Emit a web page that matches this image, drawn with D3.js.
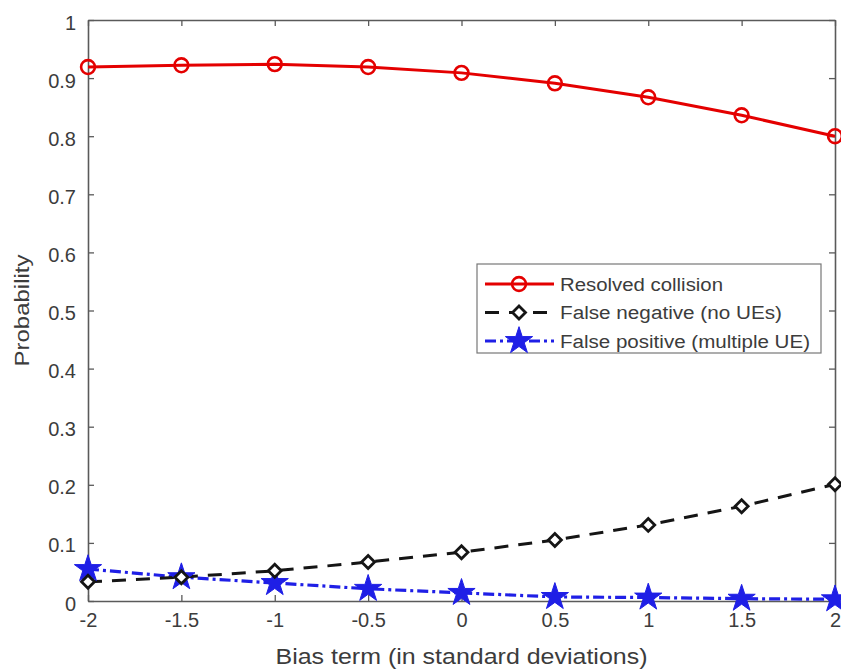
<!DOCTYPE html>
<html>
<head>
<meta charset="utf-8">
<script src="https://cdn.jsdelivr.net/npm/d3@7"></script>
<style>
  html, body { margin: 0; padding: 0; background: #fff; }
  svg { display: block; font-family: "Liberation Sans", Arial, sans-serif; }
</style>
</head>
<body>
<svg id="chart" width="841" height="669"></svg>
<script>
// Bias term values (in standard deviations)
const biasTerms = [-2, -1.5, -1, -0.5, 0, 0.5, 1, 1.5, 2];

// Probabilities per outcome
const resolvedCollision = [0.919, 0.922, 0.924, 0.919, 0.909, 0.891, 0.867, 0.836, 0.800];
const falseNegative     = [0.033, 0.041, 0.052, 0.067, 0.084, 0.105, 0.131, 0.163, 0.201];
const falsePositive     = [0.055, 0.041, 0.031, 0.021, 0.014, 0.007, 0.006, 0.004, 0.003];

const xTicks = [-2, -1.5, -1, -0.5, 0, 0.5, 1, 1.5, 2];
const yTicks = [0, 0.1, 0.2, 0.3, 0.4, 0.5, 0.6, 0.7, 0.8, 0.9, 1];

const seriesNames = ["Resolved collision", "False negative (no UEs)", "False positive (multiple UE)"];

const svg = d3.select("#chart");
const margin = { left: 88, right: 5, top: 20, bottom: 68 };
const W = 841, H = 669;
const x = d3.scaleLinear().domain([-2, 2]).range([margin.left, W - margin.right - 1]);
const y = d3.scaleLinear().domain([0, 1]).range([H - margin.bottom, margin.top]);

const axisColor = "#5a5a5a";
const textColor = "#3c3c3c";
const fmt = d => String(d);

// axes with inward ticks on all four sides
const gx = svg.append("g").attr("transform", `translate(0,${y(0)})`)
  .call(d3.axisBottom(x).tickValues(xTicks).tickSizeInner(-6).tickSizeOuter(0).tickPadding(12).tickFormat(fmt));
const gxTop = svg.append("g").attr("transform", `translate(0,${y(1)})`)
  .call(d3.axisTop(x).tickValues(xTicks).tickSizeInner(-6).tickSizeOuter(0).tickFormat(""));
const gy = svg.append("g").attr("transform", `translate(${x(-2)},0)`)
  .call(d3.axisLeft(y).tickValues(yTicks).tickSizeInner(-6).tickSizeOuter(0).tickPadding(12).tickFormat(fmt));
const gyRight = svg.append("g").attr("transform", `translate(${x(2)},0)`)
  .call(d3.axisRight(y).tickValues(yTicks).tickSizeInner(-6).tickSizeOuter(0).tickFormat(""));

[gx, gxTop, gy, gyRight].forEach(g => {
  g.attr("font-size", null).attr("font-family", null);
  g.selectAll("path.domain").attr("stroke", axisColor).attr("stroke-width", 1.6);
  g.selectAll(".tick line").attr("stroke", axisColor).attr("stroke-width", 1.3);
  g.selectAll(".tick text").attr("fill", textColor)
    .style("font-size", "20px")
    .style("font-family", "'Liberation Sans', Arial, sans-serif");
});
gy.selectAll(".tick text").attr("dy", "0.45em");

// axis titles
svg.append("text")
  .attr("x", x(0)).attr("y", 664)
  .attr("text-anchor", "middle").style("font-size", "22px").attr("fill", textColor)
  .attr("textLength", 372).attr("lengthAdjust", "spacingAndGlyphs")
  .text("Bias term (in standard deviations)");
svg.append("text")
  .attr("transform", `translate(29,${y(0.5)}) rotate(-90)`)
  .attr("text-anchor", "middle").style("font-size", "21px").attr("fill", textColor)
  .attr("textLength", 112).attr("lengthAdjust", "spacingAndGlyphs")
  .text("Probability");

// marker shapes
const starPath = d3.symbol().type(d3.symbolStar).size(230)();
const circlePath = d3.symbol().type(d3.symbolCircle).size(150)();
const dr = 6.5;
const diamondPath = `M0,${-dr}L${dr},0L0,${dr}L${-dr},0Z`;

const series = [
  { name: seriesNames[0], values: resolvedCollision, color: "#e40000", dash: null, width: 3,
    marker: circlePath, fill: "none", mstroke: 2.6, labelLen: 163 },
  { name: seriesNames[1], values: falseNegative, color: "#151515", dash: "14,10", width: 3,
    marker: diamondPath, fill: "#fff", mstroke: 2.8, labelLen: 222 },
  { name: seriesNames[2], values: falsePositive, color: "#1f1fe6", dash: "11,4,3,4", width: 3.2,
    marker: starPath, fill: "#1f1fe6", mstroke: 1, labelLen: 250 }
];

const line = d3.line().x((d, i) => x(biasTerms[i])).y(d => y(d)).curve(d3.curveLinear);

const plot = svg.append("g");
series.slice().reverse().forEach(s => {
  plot.append("path").datum(s.values)
    .attr("d", line).attr("fill", "none")
    .attr("stroke", s.color).attr("stroke-width", s.width)
    .attr("stroke-dasharray", s.dash);
});
series.slice().reverse().forEach(s => {
  plot.selectAll(null).data(s.values).join("path")
    .attr("d", s.marker)
    .attr("transform", (d, i) => `translate(${x(biasTerms[i])},${y(d)})`)
    .attr("fill", s.fill).attr("stroke", s.color).attr("stroke-width", s.mstroke);
});

// legend
const lg = svg.append("g").attr("transform", "translate(477,264)");
lg.append("rect").attr("width", 344).attr("height", 89)
  .attr("fill", "#fff").attr("stroke", "#777").attr("stroke-width", 1.2);
series.forEach((s, i) => {
  const yy = 20 + i * 28.5;
  lg.append("line").attr("x1", 8).attr("x2", 77).attr("y1", yy).attr("y2", yy)
    .attr("stroke", s.color).attr("stroke-width", s.width).attr("stroke-dasharray", s.dash);
  lg.append("path").attr("d", s.marker).attr("transform", `translate(42,${yy})`)
    .attr("fill", s.fill).attr("stroke", s.color).attr("stroke-width", s.mstroke);
  lg.append("text").attr("x", 83).attr("y", yy + 6.5)
    .style("font-size", "18px").attr("fill", textColor)
    .attr("textLength", s.labelLen).attr("lengthAdjust", "spacingAndGlyphs")
    .text(s.name);
});
</script>
</body>
</html>
